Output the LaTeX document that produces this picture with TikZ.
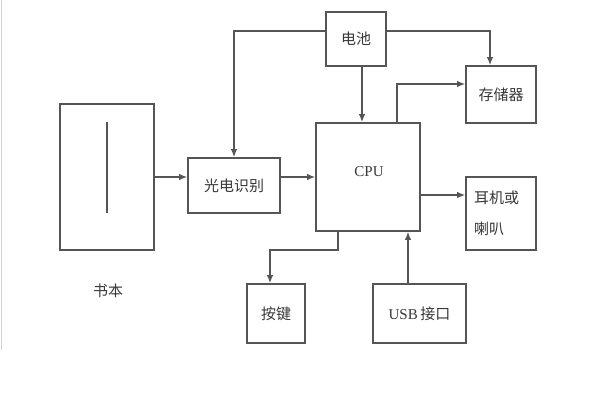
\documentclass[tikz,border=0pt]{standalone}
\usepackage{fontspec}
\setmainfont{Liberation Serif}
\newfontfamily\cjk{Noto Sans CJK SC}
\usetikzlibrary{arrows.meta}
\definecolor{edge}{HTML}{555555}
\definecolor{txt}{HTML}{383838}
\tikzset{
  box/.style={draw=edge, line width=1.8pt, fill=white, inner sep=0pt, text=txt},
  conn/.style={draw=edge, line width=1.2pt},
  arr/.style={conn, -{Latex[length=8pt,width=6.5pt]}},
  lab/.style={text=txt, font=\cjk\fontsize{15}{16}\selectfont, inner sep=0pt}
}
\begin{document}
\begin{tikzpicture}[x=1pt,y=-1pt]
\useasboundingbox (0,0) rectangle (600,415);
\fill[white] (0,0) rectangle (600,415);
\draw[black!18, line width=1.5pt] (1.5,0) -- (1.5,350);
% boxes
\node[box, minimum width=94pt, minimum height=146pt] (book) at (107,177) {};
\draw[conn] (107,122) coordinate (bl1) -- (107,213) coordinate (bl2);
\node[lab] (booklab) at (108,291) {书本};
\node[box, minimum width=92pt, minimum height=55pt, font=\cjk\fontsize{15}{16}\selectfont] (guang) at (234,185.5) {光电识别};
\node[box, minimum width=60pt, minimum height=54pt, font=\cjk\fontsize{15}{16}\selectfont] (dianchi) at (356,39) {电池};
\node[box, minimum width=104pt, minimum height=108pt] (cpu) at (368,177) {};
\node[text=txt, font=\fontsize{15}{16}\selectfont, inner sep=0pt] (cpulab) at (369,172) {CPU};
\node[box, minimum width=70pt, minimum height=57pt, font=\cjk\fontsize{15}{16}\selectfont] (cunchu) at (501,94.5) {存储器};
\node[box, minimum width=70pt, minimum height=73pt] (erji) at (501,213.5) {};
\node[lab, anchor=west, align=left, font=\cjk\fontsize{15}{31}\selectfont] (erjilab) at (474,213) {耳机或\\喇叭};
\node[box, minimum width=58pt, minimum height=59pt, font=\cjk\fontsize{15}{16}\selectfont] (anjian) at (276,313.5) {按键};
\node[box, minimum width=93pt, minimum height=59pt] (usb) at (419.5,313.5) {\fontsize{15}{16}\selectfont USB\,{\cjk 接口}};
% connectors
\draw[arr] (book.east) -- (book.east -| guang.west);
\draw[arr] ([yshift=8pt]dianchi.west) -| (guang.north);
\draw[arr] ([yshift=8pt]dianchi.east) -| ([xshift=-11pt]cunchu.north);
\draw[arr] ([xshift=6pt]dianchi.south) -- ([xshift=6pt]dianchi.south |- cpu.north);
\draw[arr] ([xshift=29pt]cpu.north) |- ([yshift=10.5pt]cunchu.west);
\draw[arr] ([yshift=8.5pt]guang.east) -- ([yshift=8.5pt]guang.east -| cpu.west);
\draw[arr] ([yshift=-18pt]cpu.east) -- ([yshift=-18pt]cpu.east -| erji.west);
\coordinate (kb) at (270,250);
\draw[arr] ([xshift=-30pt]cpu.south) |- (kb) -- (kb |- anjian.north);
\draw[arr] ([xshift=-11.5pt]usb.north) -- ([xshift=-11.5pt]usb.north |- cpu.south);
\end{tikzpicture}
\end{document}
